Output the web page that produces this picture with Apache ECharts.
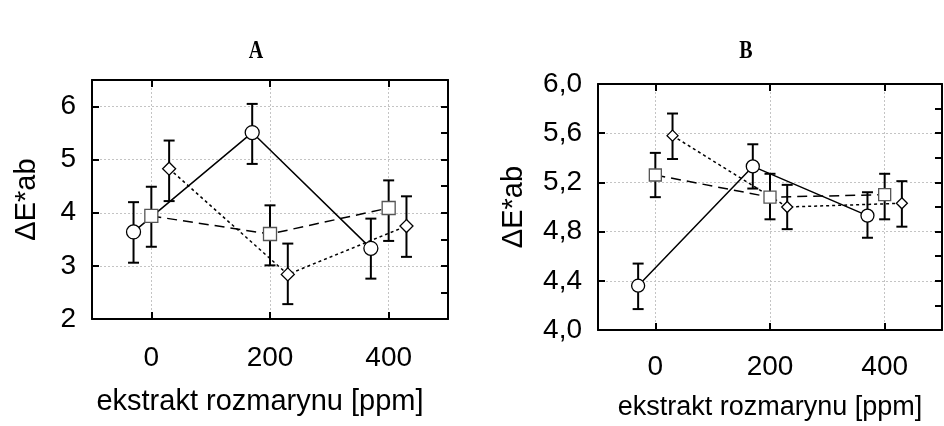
<!DOCTYPE html>
<html>
<head>
<meta charset="utf-8">
<script src="https://cdn.jsdelivr.net/npm/echarts@6/dist/echarts.min.js"></script>
<style>html,body{margin:0;padding:0;background:#fff}#c{width:944px;height:426px}</style>
</head>
<body>
<div id="c"></div>
<script>
// ---- data ----
const xTicks = [0, 200, 400];
const xLabelTitle = 'ekstrakt rozmarynu [ppm]';
const yName = 'ΔE*ab';

// Panel A
const A_circleX = [-30, 170, 370];
const A_circleY = [3.64, 5.51, 3.33];
const A_circleLo = [3.06, 4.92, 2.76];
const A_circleHi = [4.20, 6.05, 3.89];

const A_squareX = [0, 200, 400];
const A_squareY = [3.94, 3.60, 4.09];
const A_squareLo = [3.36, 3.01, 3.47];
const A_squareHi = [4.49, 4.14, 4.61];

const A_diamondX = [30, 230, 430];
const A_diamondY = [4.83, 2.84, 3.75];
const A_diamondLo = [4.22, 2.28, 3.17];
const A_diamondHi = [5.36, 3.42, 4.31];

// Panel B
const B_circleX = [-30, 170, 370];
const B_circleY = [4.36, 5.33, 4.93];
const B_circleLo = [4.17, 5.15, 4.75];
const B_circleHi = [4.54, 5.51, 5.12];

const B_squareX = [0, 200, 400];
const B_squareY = [5.26, 5.08, 5.10];
const B_squareLo = [5.08, 4.90, 4.90];
const B_squareHi = [5.44, 5.27, 5.27];

const B_diamondX = [30, 230, 430];
const B_diamondY = [5.58, 5.00, 5.03];
const B_diamondLo = [5.39, 4.82, 4.84];
const B_diamondHi = [5.76, 5.18, 5.21];

// ---- chart ----
const FONT = 'Arial, "Liberation Sans", sans-serif';
const chart = echarts.init(document.getElementById('c'), null, {renderer: 'canvas'});

function zip2(xs, ys) { return xs.map((x, i) => [x, ys[i]]); }
function zip3(xs, lo, hi) { return xs.map((x, i) => [x, lo[i], hi[i]]); }

function errRender(params, api) {
  const x = api.value(0), lo = api.value(1), hi = api.value(2);
  const pLo = api.coord([x, lo]), pHi = api.coord([x, hi]);
  const hw = 5.5;
  const st = {stroke: '#000', lineWidth: 2};
  return {type: 'group', children: [
    {type: 'line', shape: {x1: pLo[0], y1: pLo[1], x2: pHi[0], y2: pHi[1]}, style: st},
    {type: 'line', shape: {x1: pHi[0] - hw, y1: pHi[1], x2: pHi[0] + hw, y2: pHi[1]}, style: st},
    {type: 'line', shape: {x1: pLo[0] - hw, y1: pLo[1], x2: pLo[0] + hw, y2: pLo[1]}, style: st}
  ]};
}

function errSeries(xi, yi, xs, lo, hi) {
  return {type: 'custom', xAxisIndex: xi, yAxisIndex: yi, z: 2,
    renderItem: errRender, encode: {x: 0, y: [1, 2]}, data: zip3(xs, lo, hi), silent: true};
}
function lineSeries(xi, yi, xs, ys, symbol, size, lineType, borderColor) {
  return {type: 'line', xAxisIndex: xi, yAxisIndex: yi, z: 3, data: zip2(xs, ys),
    symbol: symbol, symbolSize: size, showSymbol: true, animation: false,
    lineStyle: {color: '#000', width: 1.5, type: lineType},
    itemStyle: {color: '#fff', borderColor: borderColor, borderWidth: 1.3, opacity: 1}};
}

const axisLineStyle = {show: true, onZero: false, lineStyle: {color: '#000', width: 2}};
const gridLineStyle = {show: true, lineStyle: {color: '#c4c4c4', width: 1, type: [2, 2]}};

function xBottom(gi, labelMargin, nameGap, nameSize, namePad) {
  return {type: 'value', gridIndex: gi, position: 'bottom', min: -100, max: 500,
    axisLine: axisLineStyle,
    axisTick: {show: true, inside: true, length: 7, lineStyle: {color: '#000', width: 2}, customValues: xTicks},
    axisLabel: {show: true, margin: labelMargin, fontSize: 28, color: '#000', fontFamily: FONT, customValues: xTicks},
    splitLine: gridLineStyle,
    name: xLabelTitle, nameLocation: 'middle', nameGap: nameGap,
    nameTextStyle: {fontSize: nameSize, color: '#000', fontFamily: FONT, padding: namePad}};
}
function xTop(gi) {
  return {type: 'value', gridIndex: gi, position: 'top', min: -100, max: 500,
    axisLine: axisLineStyle,
    axisTick: {show: true, inside: true, length: 7, lineStyle: {color: '#000', width: 2}, customValues: xTicks},
    axisLabel: {show: false, customValues: xTicks}, splitLine: {show: false}};
}
function yLeft(gi, min, max, interval, fmt, nameGap) {
  return {type: 'value', gridIndex: gi, position: 'left', min: min, max: max, interval: interval,
    axisLine: axisLineStyle,
    axisTick: {show: true, inside: true, length: 7, lineStyle: {color: '#000', width: 2}},
    axisLabel: {show: true, margin: 16, fontSize: 28, color: '#000', fontFamily: FONT, formatter: fmt},
    splitLine: gridLineStyle,
    name: yName, nameLocation: 'middle', nameGap: nameGap, nameRotate: 90,
    nameTextStyle: {fontSize: 29, color: '#000', fontFamily: FONT}};
}
function yRight(gi, min, max, interval) {
  return {type: 'value', gridIndex: gi, position: 'right', min: min, max: max, interval: interval,
    axisLine: axisLineStyle,
    axisTick: {show: true, inside: true, length: 7, lineStyle: {color: '#000', width: 2}},
    axisLabel: {show: false}, splitLine: {show: false}};
}

const option = {
  animation: false,
  backgroundColor: '#fff',
  grid: [
    {left: 92, top: 80, width: 356, height: 239},
    {left: 598, top: 84, width: 344, height: 247}
  ],
  xAxis: [
    xBottom(0, 25, 68, 29, [0, 20, 0, 0]), xTop(0),
    xBottom(1, 23, 64, 27, [0, 0, 0, 0]), xTop(1)
  ],
  yAxis: [
    yLeft(0, 2, 6.5, 1, v => String(Math.round(v)), 51), yRight(0, 2, 6.5, 0.5),
    yLeft(1, 4, 6, 0.4, v => v.toFixed(1).replace('.', ','), 70), yRight(1, 4, 6, 0.2)
  ],
  graphic: [
    {type: 'text', x: 256, y: 52, scaleX: 0.8, style: {text: 'A', x: 0, y: 0, align: 'center', verticalAlign: 'middle', font: 'bold 25px "Liberation Serif", serif', fill: '#000'}},
    {type: 'text', x: 746, y: 52, scaleX: 0.8, style: {text: 'B', x: 0, y: 0, align: 'center', verticalAlign: 'middle', font: 'bold 25px "Liberation Serif", serif', fill: '#000'}}
  ],
  series: [
    errSeries(0, 0, A_circleX, A_circleLo, A_circleHi),
    errSeries(0, 0, A_squareX, A_squareLo, A_squareHi),
    errSeries(0, 0, A_diamondX, A_diamondLo, A_diamondHi),
    lineSeries(0, 0, A_circleX, A_circleY, 'circle', 14, 'solid', '#000'),
    lineSeries(0, 0, A_squareX, A_squareY, 'rect', 13, [10, 6], '#555'),
    lineSeries(0, 0, A_diamondX, A_diamondY, 'diamond', 13, [3, 3], '#000'),

    errSeries(2, 2, B_circleX, B_circleLo, B_circleHi),
    errSeries(2, 2, B_squareX, B_squareLo, B_squareHi),
    errSeries(2, 2, B_diamondX, B_diamondLo, B_diamondHi),
    lineSeries(2, 2, B_circleX, B_circleY, 'circle', 13, 'solid', '#000'),
    lineSeries(2, 2, B_squareX, B_squareY, 'rect', 12, [10, 6], '#555'),
    lineSeries(2, 2, B_diamondX, B_diamondY, 'diamond', 11, [3, 3], '#000')
  ]
};
chart.setOption(option);
</script>
</body>
</html>
